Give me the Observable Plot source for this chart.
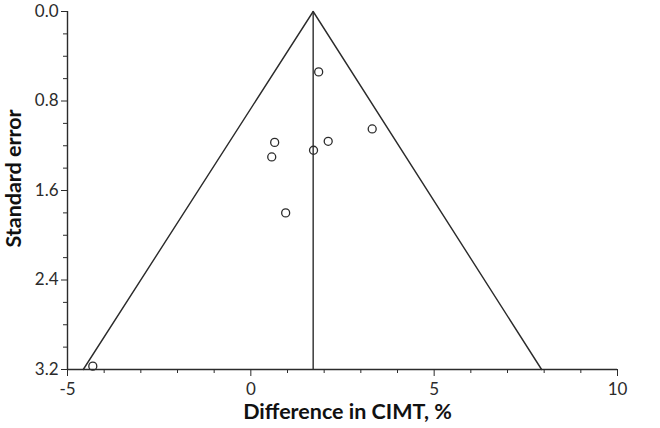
<!DOCTYPE html>
<html><head><meta charset="utf-8">
<script src="https://cdn.jsdelivr.net/npm/d3@7"></script>
<script src="https://cdn.jsdelivr.net/npm/@observablehq/plot@0.6"></script>
<style>body{margin:0;background:#fff} svg{display:block}</style>
</head><body><div id="chart"></div>
<script>
const effectX = [1.85, 3.31, 0.65, 2.11, 0.57, 1.71, 0.95, -4.31];
const standardError = [0.54, 1.05, 1.17, 1.16, 1.30, 1.24, 1.80, 3.17];
const pooledEffect = 1.70;
const funnelX = [-4.57, 1.70, 7.93];
const funnelY = [3.2, 0, 3.2];
const xMajorTicks = [-5, 0, 5, 10];
const xMinorTicks = [-4, -3, -2, -1, 1, 2, 3, 4, 6, 7, 8, 9];
const yMajorTicks = [0, 0.8, 1.6, 2.4, 3.2];
const yMinorTicks = [0.2, 0.4, 0.6, 1.0, 1.2, 1.4, 1.8, 2.0, 2.2, 2.6, 2.8, 3.0];
const xTitle = "Difference in CIMT, %";
const yTitle = "Standard error";

const studies = effectX.map((x, i) => ({x, se: standardError[i]}));
const funnel = funnelX.map((x, i) => ({x, y: funnelY[i]}));
const ink = "#2b2b2b";
const font = "Lato, 'Open Sans', sans-serif";

const chart = Plot.plot({
  width: 660,
  height: 428,
  marginLeft: 67,
  marginRight: 43,
  marginTop: 11,
  marginBottom: 59,
  style: {fontFamily: font, fontSize: "17px", color: ink, background: "#fff"},
  x: {domain: [-5, 10]},
  y: {domain: [0, 3.2], reverse: true},
  marks: [
    Plot.ruleY([3.2], {x1: -5, x2: 10, stroke: ink, strokeWidth: 1.4}),
    Plot.ruleX([-5], {y1: 0, y2: 3.2, stroke: ink, strokeWidth: 1.4}),
    Plot.axisX(xMinorTicks, {tickSize: 4, tickFormat: () => "", label: null, stroke: ink}),
    Plot.axisX(xMajorTicks, {tickSize: 7, tickPadding: 6, tickFormat: d => String(d), label: null, stroke: ink, fill: ink, fontSize: 17}),
    Plot.axisY(yMinorTicks, {tickSize: 4, tickFormat: () => "", label: null, stroke: ink}),
    Plot.axisY(yMajorTicks, {tickSize: 6, tickPadding: 3, tickFormat: d3.format(".1f"), label: null, stroke: ink, fill: ink, fontSize: 17}),
    Plot.line(funnel, {x: "x", y: "y", stroke: ink, strokeWidth: 1.4}),
    Plot.ruleX([pooledEffect], {y1: 0, y2: 3.2, stroke: ink, strokeWidth: 1.4}),
    Plot.dot(studies, {x: "x", y: "se", r: 4, stroke: ink, strokeWidth: 1.3, fill: "none"}),
    Plot.text([xTitle], {frameAnchor: "bottom", textAnchor: "middle", lineAnchor: "middle", dy: 43, dx: 5, fontWeight: "bold", fontSize: 21.5, fill: "#111"}),
    Plot.text([yTitle], {frameAnchor: "left", textAnchor: "middle", lineAnchor: "middle", rotate: -90, dx: -53, dy: -12, fontWeight: "bold", fontSize: 21.5, fill: "#111"})
  ]
});
document.getElementById("chart").appendChild(chart);
</script>
</body></html>
